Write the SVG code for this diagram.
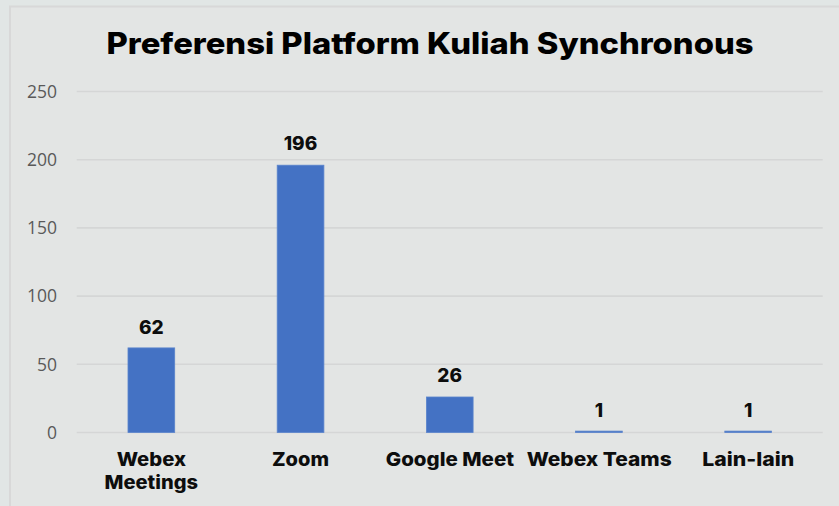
<svg xmlns="http://www.w3.org/2000/svg" width="839" height="506" viewBox="0 0 839 506">
<style>
.grid{stroke:#d5d6d6;stroke-width:1.6}
.ytick{font-family:"Open Sans","Liberation Sans",sans-serif;font-size:17.5px;fill:#595959;text-anchor:end}
.bar{fill:#4472c4;stroke:#5b84cc;stroke-width:0.8}
.val{font-family:Inter,"Liberation Sans",Arial,sans-serif;font-weight:800;font-size:19px;fill:#0d0d0d;text-anchor:middle}
.cat{font-family:Inter,"Liberation Sans",Arial,sans-serif;font-weight:800;font-size:19px;fill:#0d0d0d;text-anchor:middle}
.title{font-family:Inter,"Liberation Sans",Arial,sans-serif;font-weight:800;font-size:29.5px;fill:#000}
</style>
<rect x="0" y="0" width="839" height="506" fill="#e1e6e5"/>
<rect x="10" y="6.5" width="840" height="510" fill="#e3e5e4" stroke="#d8d8d8" stroke-width="2"/>
<text class="title" x="106.5" y="54.3" textLength="647" lengthAdjust="spacingAndGlyphs">Preferensi Platform Kuliah Synchronous</text>
<g id="axis">
<line class="grid" x1="76.7" y1="91.5" x2="822.7" y2="91.5"/>
<line class="grid" x1="76.7" y1="159.7" x2="822.7" y2="159.7"/>
<line class="grid" x1="76.7" y1="227.9" x2="822.7" y2="227.9"/>
<line class="grid" x1="76.7" y1="296.1" x2="822.7" y2="296.1"/>
<line class="grid" x1="76.7" y1="364.3" x2="822.7" y2="364.3"/>
<line class="grid" x1="76.7" y1="432.5" x2="822.7" y2="432.5"/>
<text class="ytick" x="57" y="97.8">250</text>
<text class="ytick" x="57" y="166">200</text>
<text class="ytick" x="57" y="234.2">150</text>
<text class="ytick" x="57" y="302.4">100</text>
<text class="ytick" x="57" y="370.6">50</text>
<text class="ytick" x="57" y="438.8">0</text>
</g>
<g id="bar-webex-meetings">
<rect class="bar" x="128" y="347.9" width="46.7" height="84.6"/>
<text class="val" x="151.3" y="333.5">62</text>
<text class="cat" x="151.3" y="466" textLength="69.3" lengthAdjust="spacingAndGlyphs">Webex</text>
<text class="cat" x="151.3" y="489" textLength="93.4" lengthAdjust="spacingAndGlyphs">Meetings</text>
</g>
<g id="bar-zoom">
<rect class="bar" x="277.2" y="165.2" width="46.7" height="267.3"/>
<text class="val" x="300.5" y="150">196</text>
<text class="cat" x="300.5" y="466" textLength="57" lengthAdjust="spacingAndGlyphs">Zoom</text>
</g>
<g id="bar-google-meet">
<rect class="bar" x="426.4" y="397" width="46.7" height="35.5"/>
<text class="val" x="449.7" y="382">26</text>
<text class="cat" x="449.9" y="466" textLength="128.3" lengthAdjust="spacingAndGlyphs">Google Meet</text>
</g>
<g id="bar-webex-teams">
<rect class="bar" x="575.6" y="431.1" width="46.7" height="1.4"/>
<text class="val" x="598.9" y="416.7">1</text>
<text class="cat" x="599.2" y="466" textLength="145" lengthAdjust="spacingAndGlyphs">Webex Teams</text>
</g>
<g id="bar-lain-lain">
<rect class="bar" x="724.8" y="431.1" width="46.7" height="1.4"/>
<text class="val" x="748.1" y="416.7">1</text>
<text class="cat" x="748.3" y="466" textLength="92" lengthAdjust="spacingAndGlyphs">Lain-lain</text>
</g>
</svg>
